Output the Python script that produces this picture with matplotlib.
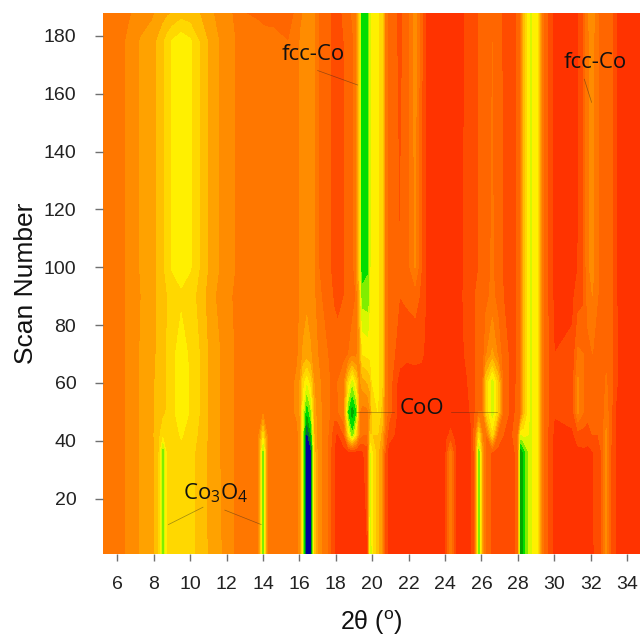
#!/usr/bin/python3
# coding: utf-8

import matplotlib
matplotlib.use('Agg')
import matplotlib.pyplot as plt
import numpy as np

plt.rcParams['font.family'] = ['Liberation Sans', 'DejaVu Sans']
plt.rcParams['mathtext.default'] = 'regular'

scans = [1, 36, 42, 50, 60, 70, 90, 100, 178, 188]

two_theta = [
    5.19, 6.2, 6.6, 7.3, 7.9, 8.25, 8.5, 8.75, 9.0, 9.5,
    10.0, 10.5, 11.0, 11.7, 12.4, 13.0, 13.75, 14.0, 14.25, 14.5,
    15.4, 15.9, 16.05, 16.2, 16.4, 16.6, 16.8, 17.0, 17.2, 17.55,
    17.9, 18.1, 18.45, 18.7, 18.9, 19.1, 19.3, 19.45, 19.75, 19.9,
    20.0, 20.3, 20.55, 20.7, 20.9, 21.5, 21.9, 22.35, 22.7, 23.0,
    24.0, 24.1, 24.3, 24.5, 24.7, 25.2, 25.45, 25.65, 25.85, 26.05,
    26.25, 26.6, 26.9, 27.2, 27.6, 27.85, 28.0, 28.17, 28.35, 28.7,
    29.05, 29.2, 29.35, 29.5, 29.8, 30.0, 31.0, 31.3, 31.6, 31.85,
    32.1, 32.4, 32.6, 32.85, 33.1, 33.35, 33.6, 34.71,
]

# one profile per 2theta, values given at the scans above (colour band units)
intensity = [
    [3.5, 3.5, 3.5, 3.5, 3.5, 3.5, 3.5, 3.5, 3.5, 3.5],  # 5.19
    [3.7, 3.7, 3.7, 3.7, 3.7, 3.7, 3.7, 3.7, 3.7, 3.6],
    [4.2, 4.2, 4.2, 4.2, 4.2, 4.2, 4.2, 4.2, 4.2, 3.8],
    [5.1, 5.1, 5.1, 5.1, 5.1, 5.1, 5.0, 5.1, 5.1, 4.5],
    [5.7, 5.7, 5.7, 5.6, 5.6, 5.5, 5.4, 5.5, 5.5, 4.8],
    [6.5, 6.5, 6.7, 6.5, 6.5, 6.3, 6.2, 6.2, 6.2, 5.2],
    [10.5, 10.5, 7.5, 6.8, 6.7, 6.6, 6.6, 6.8, 6.8, 5.5],
    [7.0, 7.0, 7.1, 7.1, 7.1, 7.1, 7.0, 7.5, 7.5, 5.8],
    [7.4, 7.4, 7.5, 7.7, 7.7, 7.7, 7.4, 8.1, 8.1, 6.0],
    [7.7, 7.7, 8.1, 8.6, 8.6, 8.5, 7.8, 8.5, 8.7, 6.5],  # 9.5
    [7.4, 7.4, 7.6, 7.9, 7.9, 7.8, 7.4, 8.1, 8.2, 6.3],
    [6.6, 6.6, 6.8, 7.0, 7.0, 7.0, 6.7, 7.0, 7.0, 6.0],
    [5.9, 5.8, 5.9, 5.9, 5.9, 5.9, 5.6, 5.9, 5.9, 5.3],
    [5.0, 4.9, 4.9, 4.9, 4.9, 4.9, 4.5, 4.8, 4.8, 4.5],
    [4.0, 4.0, 4.0, 4.0, 4.0, 4.0, 3.9, 4.05, 4.05, 3.9],
    [3.5, 3.5, 3.5, 3.5, 3.5, 3.5, 3.5, 3.5, 3.5, 3.0],
    [3.6, 3.7, 3.6, 3.5, 3.5, 3.5, 3.5, 3.5, 3.5, 2.8],
    [10.2, 10.2, 7.5, 3.6, 3.5, 3.5, 3.5, 3.5, 3.4, 2.7],  # 14.0
    [3.7, 3.7, 3.6, 3.5, 3.5, 3.5, 3.5, 3.5, 3.3, 2.7],
    [3.5, 3.5, 3.5, 3.5, 3.5, 3.5, 3.5, 3.5, 3.3, 2.7],
    [3.5, 3.5, 3.5, 3.6, 3.6, 3.5, 3.5, 3.5, 3.0, 2.5],
    [3.6, 3.7, 3.8, 4.2, 4.2, 3.9, 3.6, 3.5, 3.5, 3.3],
    [4.5, 4.6, 4.8, 5.2, 5.2, 4.5, 4.1, 4.1, 4.1, 3.8],
    [9.0, 9.0, 9.0, 8.5, 7.5, 5.1, 4.6, 4.4, 4.4, 4.0],
    [14.6, 14.6, 14.0, 11.5, 8.8, 5.3, 4.85, 4.5, 4.5, 4.2],  # 16.4
    [14.0, 14.0, 12.0, 10.0, 7.5, 5.1, 4.6, 4.4, 4.4, 4.1],
    [6.5, 6.5, 6.0, 5.5, 5.0, 4.6, 4.2, 4.1, 4.1, 4.0],
    [4.8, 4.7, 4.7, 4.5, 4.3, 4.0, 3.4, 3.1, 3.1, 3.1],
    [4.0, 4.0, 4.0, 4.0, 3.9, 3.7, 3.0, 2.8, 2.8, 2.8],
    [3.0, 3.0, 3.1, 3.2, 3.2, 3.0, 2.4, 2.3, 2.3, 2.3],
    [1.0, 1.0, 1.2, 2.5, 2.6, 2.4, 1.9, 1.6, 1.6, 1.6],
    [0.5, 0.5, 0.8, 2.8, 3.0, 2.4, 1.7, 1.5, 1.5, 1.6],
    [0.5, 0.5, 2.0, 4.0, 4.0, 2.6, 2.0, 2.0, 2.0, 2.2],
    [0.5, 0.5, 7.5, 11.0, 7.5, 3.0, 2.3, 2.4, 2.4, 2.7],
    [0.5, 0.5, 10.5, 12.5, 9.5, 3.5, 2.6, 2.8, 2.8, 3.1],  # 18.9
    [0.5, 0.5, 7.5, 11.0, 7.5, 3.5, 3.0, 3.3, 3.3, 3.6],
    [0.6, 0.6, 3.5, 4.0, 4.5, 5.0, 6.0, 7.0, 7.0, 7.0],
    [0.8, 0.8, 3.0, 3.5, 5.5, 8.0, 10.5, 11.6, 11.6, 11.6],
    [1.0, 1.5, 3.0, 3.7, 6.0, 8.3, 10.6, 11.1, 11.1, 11.1],
    [9.5, 9.0, 7.0, 5.0, 6.5, 8.4, 8.6, 8.6, 8.6, 8.6],
    [8.0, 8.0, 7.0, 7.3, 8.0, 8.4, 8.5, 8.5, 8.5, 8.5],  # 20.0
    [6.3, 6.3, 7.0, 8.0, 8.2, 8.3, 8.3, 8.3, 8.3, 8.3],
    [4.5, 4.5, 5.5, 6.5, 7.0, 7.0, 7.0, 7.0, 7.0, 7.0],
    [2.0, 2.0, 3.0, 4.0, 4.0, 4.0, 4.0, 4.0, 4.0, 4.0],
    [0.5, 0.5, 1.5, 2.5, 2.6, 2.6, 2.6, 2.6, 2.6, 2.6],
    [0.5, 0.5, 0.5, 0.5, 0.5, 1.5, 2.0, 2.0, 1.8, 1.8],
    [0.5, 0.5, 0.5, 0.5, 0.5, 1.2, 2.2, 2.4, 2.3, 2.3],
    [0.5, 0.5, 0.5, 0.5, 0.5, 1.3, 2.4, 4.05, 4.5, 4.5],
    [0.5, 0.5, 0.5, 0.5, 0.5, 1.2, 1.8, 2.0, 2.2, 2.2],
    [0.5, 0.5, 0.5, 0.5, 0.5, 0.7, 0.8, 0.7, 0.7, 0.7],
    [0.5, 0.5, 0.5, 0.5, 0.5, 0.5, 0.5, 0.5, 0.5, 0.5],  # 24.0
    [1.5, 1.5, 0.8, 0.5, 0.5, 0.5, 0.5, 0.5, 0.5, 0.5],
    [3.6, 3.4, 1.2, 0.5, 0.6, 0.5, 0.5, 0.5, 0.5, 0.5],
    [1.5, 1.5, 0.8, 0.5, 0.5, 0.5, 0.5, 0.5, 0.5, 0.5],
    [0.5, 0.5, 0.5, 0.5, 0.5, 0.5, 0.5, 0.5, 0.5, 0.5],
    [0.5, 0.5, 0.5, 0.6, 0.9, 1.2, 1.4, 1.3, 1.2, 1.2],
    [0.8, 0.8, 0.9, 1.2, 1.5, 1.6, 1.8, 1.7, 1.7, 1.7],
    [2.5, 2.5, 2.8, 2.0, 2.0, 2.0, 2.0, 2.0, 2.0, 2.0],
    [10.5, 10.5, 7.5, 3.0, 2.3, 2.2, 2.1, 2.0, 2.0, 2.0],  # 25.85
    [5.0, 5.0, 4.0, 3.0, 2.6, 2.3, 2.2, 2.1, 2.1, 2.1],
    [2.4, 2.4, 2.8, 7.0, 7.0, 3.8, 2.7, 2.7, 2.5, 2.4],
    [1.8, 1.8, 7.5, 9.5, 9.5, 5.2, 3.3, 3.1, 3.0, 2.5],
    [1.5, 1.7, 2.6, 7.0, 7.0, 3.8, 2.6, 2.5, 2.3, 2.3],
    [1.6, 1.6, 2.0, 2.7, 2.6, 2.4, 2.0, 1.9, 1.9, 1.9],
    [1.5, 1.5, 1.7, 1.8, 1.8, 1.8, 1.7, 1.7, 1.7, 1.7],
    [2.0, 2.0, 2.4, 2.0, 1.9, 1.9, 1.9, 1.9, 1.9, 1.9],
    [2.5, 2.5, 3.0, 2.2, 2.2, 2.2, 2.2, 2.2, 2.2, 2.2],
    [12.5, 12.5, 9.0, 3.0, 3.0, 3.0, 3.0, 3.0, 3.0, 3.0],  # 28.17
    [11.0, 11.0, 8.5, 6.5, 6.5, 6.5, 6.5, 6.5, 6.5, 6.5],
    [9.1, 9.1, 9.1, 9.1, 9.1, 9.1, 9.1, 9.1, 9.1, 9.1],
    [8.1, 8.1, 8.1, 8.1, 8.1, 8.1, 8.1, 8.1, 8.1, 8.1],
    [6.0, 6.0, 6.0, 6.0, 6.0, 6.0, 6.0, 6.0, 6.0, 6.0],
    [3.5, 3.5, 3.5, 3.5, 3.5, 3.5, 3.5, 3.5, 3.5, 3.5],
    [2.5, 2.5, 2.5, 2.5, 2.5, 2.5, 2.5, 2.5, 2.5, 2.5],
    [1.5, 1.5, 1.5, 1.6, 1.6, 1.6, 1.5, 1.5, 1.5, 1.5],
    [0.7, 0.7, 0.7, 1.1, 1.1, 1.0, 0.7, 0.7, 0.7, 0.7],
    [0.7, 0.7, 0.8, 1.5, 1.5, 1.2, 0.8, 0.7, 0.7, 0.7],  # 31.0
    [0.7, 0.7, 1.5, 4.2, 4.2, 3.2, 1.5, 1.0, 0.9, 0.9],
    [0.8, 0.8, 1.5, 3.0, 3.0, 3.0, 1.8, 1.8, 1.8, 1.8],
    [0.8, 0.8, 1.3, 2.5, 2.6, 2.6, 3.5, 3.9, 3.9, 3.9],
    [0.8, 0.9, 2.0, 2.8, 2.8, 3.0, 4.0, 4.2, 4.3, 4.4],
    [1.5, 1.5, 2.0, 2.3, 2.5, 2.7, 3.0, 3.2, 3.2, 3.0],
    [2.0, 2.0, 2.2, 2.3, 2.4, 2.4, 2.4, 2.4, 2.4, 2.4],
    [4.2, 4.2, 4.2, 3.5, 3.1, 2.8, 2.5, 2.5, 2.5, 2.5],
    [2.0, 2.0, 2.2, 2.3, 2.5, 2.4, 2.3, 2.3, 2.3, 2.3],
    [1.0, 1.0, 1.0, 1.0, 1.4, 1.4, 1.3, 1.3, 1.3, 1.3],
    [0.5, 0.5, 0.5, 0.5, 0.5, 0.5, 0.5, 0.5, 0.5, 0.5],
    [0.5, 0.5, 0.5, 0.5, 0.5, 0.5, 0.5, 0.5, 0.5, 0.5],  # 34.71
]

band_colors = ['#ff3300', '#ff4c00', '#ff6600', '#ff7700', '#ff8c00',
               '#ffa200', '#ffc000', '#ffd800', '#fff000', '#d8f800',
               '#80ee00', '#00dd00', '#00a800', '#007040', '#0000a0']

xticks = list(range(6, 36, 2))
yticks = list(range(20, 200, 20))

# label text, position, and the thin lines going to the peaks
labels = [
    ('fcc-Co', 16.75, 173.6),
    ('fcc-Co', 32.24, 170.8),
    ('CoO', 22.73, 51),
    ('Co$_3$O$_4$', 11.42, 22),
]
leader_lines = [
    (17.0, 168, 19.2, 163),
    (31.65, 165, 32.05, 157),
    (19.1, 50, 21.2, 50),
    (24.3, 50, 26.85, 50),
    (8.8, 11, 10.7, 17),
    (11.9, 16, 13.9, 11),
]

fig = plt.figure(figsize=(6.4, 6.37), dpi=100)
ax = fig.add_axes([102.7 / 640, 83.5 / 637, 537.3 / 640, 540.8 / 637])

z = np.array(intensity).T
ax.contourf(two_theta, scans, z, levels=np.arange(0, 16), colors=band_colors)

ax.set_xlim(5.19, 34.71)
ax.set_ylim(1, 188)
ax.set_xticks(xticks)
ax.set_yticks(yticks)
ax.tick_params(axis='x', length=5, width=1, color='#707070', pad=11, labelsize=14, labelcolor='#222222')
ax.tick_params(axis='y', length=6, width=1, color='#707070', pad=13, labelsize=14, labelcolor='#222222')
for s in ax.spines.values():
    s.set_visible(False)

ax.set_xlabel('2\u03b8 ($^{o}$)', fontsize=18, labelpad=11.5, color='#111111')
ax.set_ylabel('Scan Number', fontsize=19, labelpad=4, color='#111111')

for x0, y0, x1, y1 in leader_lines:
    ax.plot([x0, x1], [y0, y1], color='#222222', lw=0.5, alpha=0.45)

for txt, x, y in labels:
    ax.text(x, y, txt, ha='center', va='center', fontsize=16, color='#111111', family='Open Sans')

plt.savefig('out.png', dpi=100)
plt.close()
